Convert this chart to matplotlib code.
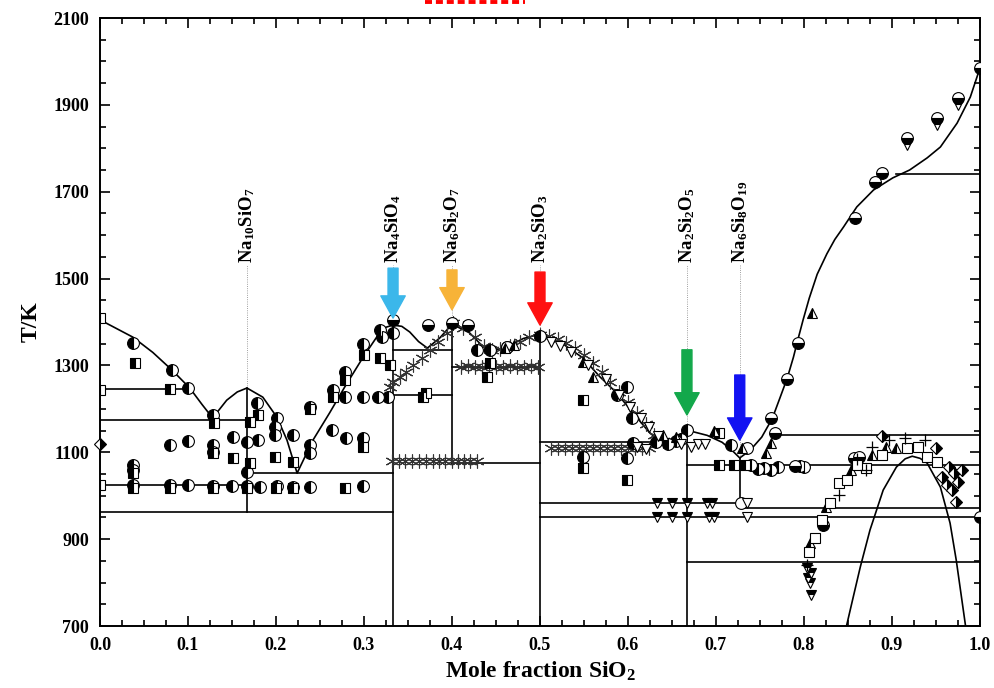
import numpy as np
import matplotlib
matplotlib.use('Agg')
import matplotlib.pyplot as plt
from matplotlib.ticker import MultipleLocator, FixedLocator, FormatStrFormatter
from matplotlib.lines import Line2D

plt.rcParams['font.family'] = 'Liberation Serif'
plt.rcParams['font.weight'] = 'bold'
plt.rcParams['axes.labelweight'] = 'bold'
plt.rcParams['mathtext.fontset'] = 'custom'
plt.rcParams['mathtext.rm'] = 'Liberation Serif:bold'
plt.rcParams['mathtext.bf'] = 'Liberation Serif:bold'
plt.rcParams['mathtext.it'] = 'Liberation Serif:italic:bold'
plt.rcParams['mathtext.default'] = 'rm'

# calculated liquidus (Na2O-SiO2)
liq_x = [0.0, 0.0375, 0.06, 0.082, 0.102, 0.116, 0.128, 0.144, 0.156, 0.167, 0.185, 0.201,
         0.2125, 0.224, 0.242, 0.261, 0.278, 0.299, 0.316, 0.325, 0.333, 0.343, 0.352, 0.362,
         0.372, 0.386, 0.4, 0.42, 0.432, 0.443, 0.462, 0.481, 0.5, 0.523, 0.549, 0.568, 0.587,
         0.606, 0.625, 0.64, 0.656, 0.667, 0.69, 0.707, 0.72, 0.727, 0.739, 0.752, 0.764, 0.773,
         0.781, 0.788, 0.793, 0.799, 0.806, 0.815, 0.826, 0.835, 0.845, 0.86, 0.879, 0.901,
         0.92, 0.94, 0.955, 0.974, 0.989, 1.0]
liq_T = [1405, 1365, 1330, 1289, 1248, 1210, 1179, 1220, 1239, 1248, 1227, 1181,
         1128, 1052, 1128, 1191, 1250, 1319, 1370, 1388, 1393, 1390, 1377, 1355,
         1340, 1363, 1395, 1375, 1350, 1333, 1342, 1362, 1372, 1354, 1317, 1274, 1237,
         1190, 1144, 1121, 1137, 1151, 1139, 1123, 1101, 1087, 1105, 1135, 1178, 1227,
         1271, 1319, 1359, 1405, 1455, 1510, 1557, 1590, 1619, 1665, 1704, 1732,
         1750, 1778, 1803, 1858, 1918, 1985]

# miscibility gap in the SiO2-rich liquid
gap_x = [0.846, 0.856, 0.864, 0.875, 0.89, 0.905, 0.915, 0.923, 0.932, 0.94, 0.955, 0.966, 0.973, 0.985]
gap_T = [680, 767, 836, 921, 1013, 1066, 1085, 1091, 1086, 1075, 1020, 937, 852, 680]

# invariant lines: temperature, x start, x end
inv_T = [1246, 1174, 1025, 1052, 963, 1335, 1232, 1296, 1075, 1124, 983, 972, 951, 1071, 1140, 847, 1741]
inv_x0 = [0.0, 0.0, 0.0, 0.167, 0.0, 0.333, 0.333, 0.4, 0.4, 0.5, 0.5, 0.727, 0.5, 0.667, 0.765, 0.667, 0.905]
inv_x1 = [0.102, 0.167, 0.167, 0.333, 0.333, 0.4, 0.4, 0.5, 0.5, 0.628, 0.727, 1.0, 1.0, 1.0, 1.0, 1.0, 1.0]

# compounds: composition, lower and upper end of the vertical line
comp_x = [0.167, 0.333, 0.4, 0.5, 0.667, 0.727]
comp_lo = [963, 700, 1075, 700, 700, 983]
comp_hi = [1248, 1393, 1395, 1372, 1151, 1087]
comp_names = ['Na$_{10}$SiO$_7$', 'Na$_4$SiO$_4$', 'Na$_6$Si$_2$O$_7$',
              'Na$_2$SiO$_3$', 'Na$_2$Si$_2$O$_5$', 'Na$_6$Si$_8$O$_{19}$']

# arrows: composition, tail T, tip T, colour
arr_x = [0.333, 0.4, 0.5, 0.667, 0.727]
arr_tail = [1524, 1520, 1515, 1336, 1278]
arr_tip = [1409, 1428, 1393, 1186, 1128]
arr_col = ['#3BB7EA', '#F7B338', '#FF1111', '#13A84B', '#1212F2']

# experimental points
circL_x = [0.0375, 0.082, 0.1, 0.128, 0.0375, 0.0375, 0.08, 0.1, 0.128, 0.128, 0.151, 0.167, 0.167,
           0.178, 0.18, 0.201, 0.199, 0.199, 0.219, 0.239, 0.239, 0.239, 0.265, 0.264, 0.278, 0.278,
           0.28, 0.299, 0.299, 0.299, 0.318, 0.32, 0.316, 0.327, 0.333,
           0.0375, 0.08, 0.1, 0.128, 0.15, 0.167, 0.182, 0.201, 0.219, 0.239, 0.299,
           0.428, 0.443, 0.462, 0.5, 0.599, 0.587, 0.605, 0.606, 0.549, 0.599, 0.632, 0.645, 0.655,
           0.667, 0.66, 0.717, 0.74, 0.748, 0.755, 0.762, 0.77, 0.795, 0.8]
circL_T = [1352, 1289, 1248, 1186, 1070, 1060, 1117, 1126, 1117, 1100, 1135, 1124, 1055,
           1213, 1128, 1179, 1158, 1140, 1140, 1204, 1117, 1098, 1243, 1151, 1285, 1227,
           1133, 1227, 1133, 1350, 1382, 1365, 1227, 1227, 1375,
           1024, 1024, 1024, 1023, 1022, 1022, 1021, 1022, 1020, 1021, 1023,
           1336, 1336, 1343, 1368, 1250, 1232, 1179, 1121, 1089, 1087, 1124, 1119, 1126,
           1151, 1130, 1117, 1070, 1062, 1064, 1060, 1066, 1068, 1066]

circB_x = [0.333, 0.373, 0.4, 0.418, 0.767, 0.763, 0.781, 0.793, 0.858, 0.881, 0.889, 0.917,
           0.951, 0.975, 1.0, 1.0, 0.822, 0.857, 0.862, 0.79]
circB_T = [1405, 1393, 1398, 1392, 1144, 1179, 1269, 1352, 1640, 1722, 1743, 1824,
           1870, 1916, 1985, 951, 933, 1087, 1089, 1068]

open_circ_x = [0.728, 0.735, 0.462]
open_circ_T = [983, 1110, 1343]

sq_x = [0.0, 0.04, 0.0, 0.08, 0.13, 0.0375, 0.151, 0.17, 0.18, 0.17, 0.199, 0.219, 0.239, 0.265,
        0.278, 0.3, 0.318, 0.33, 0.278, 0.299, 0.0, 0.367, 0.37, 0.443, 0.44, 0.549, 0.549, 0.599,
        0.703, 0.72, 0.733, 0.703, 0.128, 0.0375, 0.08, 0.128, 0.167, 0.2, 0.219]
sq_T = [1409, 1306, 1243, 1245, 1167, 1052, 1087, 1075, 1186, 1170, 1089, 1078, 1200, 1227,
        1266, 1324, 1317, 1301, 1018, 1112, 1025, 1227, 1236, 1306, 1274, 1220, 1064, 1037,
        1071, 1071, 1071, 1144, 1098, 1018, 1018, 1018, 1018, 1018, 1018]

tri_x = [0.549, 0.56, 0.64, 0.655, 0.698, 0.73, 0.757, 0.763, 0.809, 0.807, 0.825, 0.853,
         0.877, 0.893, 0.905, 0.46, 0.47]
tri_T = [1308, 1273, 1140, 1135, 1150, 1110, 1098, 1121, 1421, 891, 974, 1059,
         1094, 1112, 1110, 1340, 1346]

dtri_open_x = [0.512, 0.523, 0.535, 0.555, 0.575, 0.59, 0.602, 0.615, 0.624, 0.634, 0.66,
               0.672, 0.68, 0.687, 0.735, 0.735, 0.61, 0.62]
dtri_open_T = [1355, 1345, 1330, 1300, 1268, 1232, 1205, 1180, 1158, 1138, 1118,
               1112, 1120, 1120, 983, 951, 1112, 1108]

dtri_x = [0.633, 0.65, 0.667, 0.69, 0.695, 0.633, 0.65, 0.667, 0.692, 0.698,
          0.803, 0.808, 0.805, 0.807, 0.808, 0.917, 0.951, 0.975]
dtri_T = [983, 983, 983, 983, 983, 951, 951, 951, 951, 951,
          834, 822, 810, 799, 772, 1808, 1854, 1900]

osq_x = [0.806, 0.8125, 0.83, 0.84, 0.849, 0.87, 0.889, 0.917, 0.93, 0.94, 0.951, 0.82, 0.86]
osq_T = [870, 902, 983, 1029, 1036, 1064, 1094, 1110, 1112, 1089, 1078, 945, 1070]

plus_x = [0.803, 0.84, 0.87, 0.877, 0.897, 0.915, 0.937, 0.86]
plus_T = [841, 1002, 1059, 1112, 1128, 1133, 1128, 1085]

dia_x = [0.0, 0.889, 0.95, 0.957, 0.965, 0.97, 0.975, 0.962, 0.968, 0.973, 0.98]
dia_T = [1120, 1138, 1110, 1043, 1066, 1052, 1032, 1025, 1013, 986, 1060]

ast_x = [0.330, 0.333, 0.341, 0.348, 0.356, 0.366, 0.375, 0.384, 0.394, 0.401, 0.413, 0.426,
         0.436, 0.445, 0.455, 0.466, 0.477, 0.488, 0.5, 0.51, 0.52, 0.53, 0.54, 0.55, 0.56,
         0.57, 0.58, 0.59, 0.60, 0.61, 0.62, 0.63, 0.64,
         0.332, 0.34, 0.347, 0.354, 0.362, 0.37, 0.378, 0.385, 0.392, 0.40, 0.407, 0.414, 0.421, 0.428,
         0.41, 0.418, 0.426, 0.434, 0.442, 0.45, 0.458, 0.466, 0.474, 0.482, 0.49, 0.498,
         0.512, 0.52, 0.528, 0.536, 0.544, 0.552, 0.56, 0.568, 0.576, 0.584, 0.592, 0.60, 0.608,
         0.616, 0.624]
ast_T = [1250, 1262, 1273, 1285, 1301, 1317, 1336, 1354, 1375, 1398, 1386, 1365,
         1345, 1335, 1338, 1345, 1355, 1365, 1370, 1368, 1360, 1352, 1340, 1325, 1305,
         1285, 1262, 1240, 1215, 1190, 1165, 1140, 1125,
         1081, 1080, 1081, 1080, 1079, 1080, 1081, 1080, 1079, 1080, 1081, 1080, 1079, 1080,
         1297, 1298, 1296, 1297, 1298, 1296, 1297, 1298, 1296, 1297, 1298, 1297,
         1110, 1111, 1109, 1110, 1111, 1109, 1110, 1111, 1109, 1110, 1111, 1109, 1110,
         1111, 1110]

y_ticks = [700, 900, 1100, 1300, 1500, 1700, 1900, 2100]

fig = plt.figure(figsize=(9.94, 6.88), dpi=100)
ax = fig.add_axes([0.1006, 0.0901, 0.8853, 0.8837])

lw = 1.2
ax.plot(liq_x, liq_T, color='black', lw=lw, zorder=2)
ax.plot(gap_x, gap_T, color='black', lw=lw, zorder=2)
for T, a, b in zip(inv_T, inv_x0, inv_x1):
    ax.plot([a, b], [T, T], color='black', lw=lw, zorder=2)
for x, lo, hi in zip(comp_x, comp_lo, comp_hi):
    ax.plot([x, x], [lo, hi], color='black', lw=lw, zorder=2)

# thin dotted guides to the compound names
for x, hi, name in zip(comp_x, comp_hi, comp_names):
    ax.plot([x, x], [hi, 1531], color='grey', lw=0.6, ls=':', zorder=1)
    ax.text(x, 1535, name, rotation=90, ha='center', va='bottom', fontsize=13.5)

mk = dict(ls='none', mec='black', mew=0.8, zorder=4)
ax.plot(ast_x, ast_T, marker=(6, 2, 0), ms=10, color='#333333', mew=0.8, ls='none', zorder=3)
ax.plot(circL_x, circL_T, marker='o', ms=8.5, fillstyle='left', mfc='black', mfcalt='white', **mk)
ax.plot(circB_x, circB_T, marker='o', ms=8.5, fillstyle='bottom', mfc='black', mfcalt='white', **mk)
ax.plot(open_circ_x, open_circ_T, marker='o', ms=8.5, mfc='white', **mk)
ax.plot(sq_x, sq_T, marker='s', ms=6.5, fillstyle='left', mfc='black', mfcalt='white', **mk)
ax.plot(tri_x, tri_T, marker='^', ms=7.5, fillstyle='left', mfc='black', mfcalt='white', **mk)
ax.plot(dtri_open_x, dtri_open_T, marker='v', ms=7.5, mfc='white', **mk)
ax.plot(dtri_x, dtri_T, marker='v', ms=7.5, fillstyle='top', mfc='black', mfcalt='white', **mk)
ax.plot(osq_x, osq_T, marker='s', ms=7, mfc='white', **mk)
ax.plot(plus_x, plus_T, marker='+', ms=9, color='black', mew=0.9, ls='none', zorder=4)
ax.plot(dia_x, dia_T, marker='D', ms=6.5, fillstyle='right', mfc='black', mfcalt='white',
        clip_on=False, **mk)

for x, t0, t1, c in zip(arr_x, arr_tail, arr_tip, arr_col):
    ax.annotate('', xy=(x, t1), xytext=(x, t0),
                arrowprops=dict(arrowstyle='simple,head_width=1.1,head_length=1.0,tail_width=0.45',
                                color=c, shrinkA=0, shrinkB=0, mutation_scale=16), zorder=5)

ax.set_xlim(0, 1.0)
ax.set_ylim(700, 2100)
ax.xaxis.set_major_locator(MultipleLocator(0.1))
ax.xaxis.set_minor_locator(MultipleLocator(0.025))
ax.yaxis.set_major_locator(FixedLocator(y_ticks))
ax.yaxis.set_minor_locator(MultipleLocator(50))
ax.xaxis.set_major_formatter(FormatStrFormatter('%.1f'))
ax.tick_params(which='both', direction='in', top=True, right=True, width=1.2, labelsize=13)
ax.tick_params(which='major', length=7, pad=8)
ax.tick_params(which='minor', length=4)
for s in ax.spines.values():
    s.set_linewidth(1.4)

ax.set_xlabel('Mole fraction SiO$_2$', fontsize=17, labelpad=4)
ax.set_ylabel('T/K', fontsize=17, labelpad=8)

# red dotted mark cut at the top edge
fig.add_artist(Line2D([0.4276, 0.528], [0.997, 0.997], transform=fig.transFigure,
                      color='red', lw=2.8, dashes=(1.8, 1.0)))

fig.savefig('out.png', dpi=100)
